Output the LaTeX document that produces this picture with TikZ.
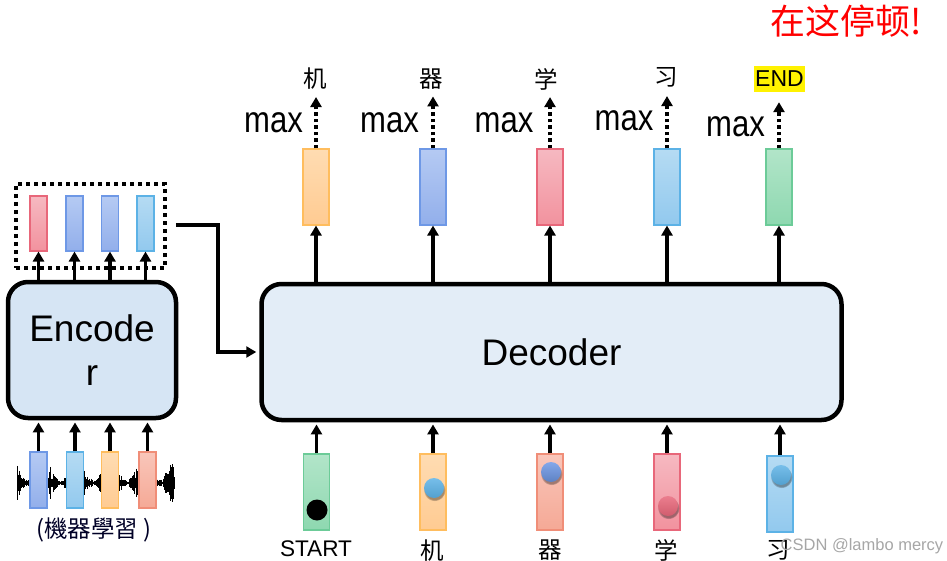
\documentclass[tikz,border=0pt]{standalone}
\usepackage{fontspec}
\usepackage{graphicx}
\setmainfont{Liberation Sans}
\newfontfamily\cjk{Noto Sans CJK SC}
\usetikzlibrary{arrows.meta,shadows,calc}
\definecolor{orT}{HTML}{FFDCB2}\definecolor{orB}{HTML}{FFCB92}\definecolor{orD}{HTML}{FFBD5E}
\definecolor{blT}{HTML}{B5CAF3}\definecolor{blB}{HTML}{92AFEB}\definecolor{blD}{HTML}{6E98E6}
\definecolor{pkT}{HTML}{F6B9C1}\definecolor{pkB}{HTML}{F2929E}\definecolor{pkD}{HTML}{E8677A}
\definecolor{lbT}{HTML}{B5DBF3}\definecolor{lbB}{HTML}{92C9EE}\definecolor{lbD}{HTML}{5CB2E6}
\definecolor{grT}{HTML}{B2E5C9}\definecolor{grB}{HTML}{8ED8B0}\definecolor{grD}{HTML}{6CCB98}
\definecolor{saT}{HTML}{F9C6BA}\definecolor{saB}{HTML}{F5A996}\definecolor{saD}{HTML}{F08E78}
\definecolor{encfill}{HTML}{D6E5F4}
\definecolor{decfill}{HTML}{E3EDF7}
\begin{document}
\begin{tikzpicture}[x=1pt,y=-1pt,
  vec/.style={draw,line width=1.1pt,inner sep=0pt,minimum width=26pt,minimum height=76pt,shading=axis},
  svec/.style={vec,minimum width=17pt,minimum height=55pt},
  vor/.style={top color=orT,bottom color=orB,draw=orD},
  vbl/.style={top color=blT,bottom color=blB,draw=blD},
  vpk/.style={top color=pkT,bottom color=pkB,draw=pkD},
  vlb/.style={top color=lbT,bottom color=lbB,draw=lbD},
  vgr/.style={top color=grT,bottom color=grB,draw=grD},
  vsa/.style={top color=saT,bottom color=saB,draw=saD},
  bigbox/.style={draw,line width=4.5pt,rounded corners=20pt,inner sep=0pt,font=\fontsize{37}{44}\selectfont,align=center},
  arr/.style={line width=3.2pt,-{Triangle[length=10pt,width=11pt]}},
  dotarr/.style={line width=3.5pt,dash pattern=on 3.5pt off 3pt,-{Triangle[length=10pt,width=11pt]}},
  dot/.style={circle,inner sep=0pt,minimum size=20pt,shading=axis,circular drop shadow={shadow xshift=0.5pt,shadow yshift=-2pt,opacity=0.35,fill=black}},
  maxlab/.style={anchor=base,inner sep=0pt,font=\fontsize{37}{37}\selectfont},
  cjklab/.style={inner sep=0pt,font=\cjk\fontsize{23.5}{23.5}\selectfont}
]
\useasboundingbox (0,0) rectangle (947,561);

% title
\node[text=red,font=\cjk\fontsize{35}{35}\selectfont] (title) at (846,21) {在这停顿!};

% waveform
\pgfmathsetseed{11}
\foreach \i in {0,...,225} {
  \pgfmathsetmacro{\xx}{17+\i*0.7}
  \pgfmathsetmacro{\env}{3+21*(abs(sin(\xx*5.5+25)))^2}
  \pgfmathsetmacro{\aa}{\env*(0.2+0.8*rnd)}
  \draw[line width=0.9pt] (\xx,483-\aa) -- (\xx,483+\aa);
}

% encoder
\node[bigbox,fill=encfill,minimum width=168pt,minimum height=136pt] (enc) at (92,350) {Encode\\r};
\node[draw,line width=3.8pt,dash pattern=on 4pt off 4pt,minimum width=149pt,minimum height=84pt] (mem) at (90.5,226) {};
\node[svec,vpk] (e1) at (38.5,223.5) {};
\node[svec,vbl] (e2) at (74.5,223.5) {};
\node[svec,vbl] (e3) at (110,223.5) {};
\node[svec,vlb] (e4) at (145.5,223.5) {};
\node[svec,vbl,minimum height=56pt] (s1) at (38.5,480) {};
\node[svec,vlb,minimum height=56pt] (s2) at (75,480) {};
\node[svec,vor,minimum height=56pt] (s3) at (110,480) {};
\node[svec,vsa,minimum height=56pt] (s4) at (147.5,480) {};
\foreach \k in {1,...,4} {
  \draw[arr] (enc.north -| e\k) -- (e\k.south);
  \draw[arr,shorten >=2.2pt] (s\k.north) -- (s\k.north |- enc.south);
}
\node[text=black!75!blue!60!black,font=\cjk\fontsize{23.5}{23.5}\selectfont] (src) at (94,530) {(機器學習 )};

% decoder
\node[bigbox,fill=decfill,minimum width=580pt,minimum height=136pt] (dec) at (551.5,352) {Decoder};
\coordinate (bend) at (218,225);
\draw[line width=3.2pt,-{Triangle[length=10pt,width=11pt]},shorten >=3pt] ([xshift=9pt]mem.east |- bend) -- (bend) |- (dec.west);

% outputs
\node[vec,vor] (o1) at (316,187) {};
\node[vec,vbl] (o2) at (433,187) {};
\node[vec,vpk] (o3) at (550,187) {};
\node[vec,vlb] (o4) at (667,187) {};
\node[vec,vgr] (o5) at (779,187) {};
\node[cjklab] (t1) at (315,79) {机};
\node[cjklab] (t2) at (431.5,79) {器};
\node[cjklab] (t3) at (546,79) {学};
\node[cjklab] (t4) at (666,77) {习};
\node[fill=yellow,inner sep=0pt,minimum width=51pt,minimum height=26pt,font=\fontsize{23}{23}\selectfont] (t5) at (779.5,79) {END};
\node[maxlab] (m1) at (273.5,133) {\scalebox{0.84}[1]{max}};
\node[maxlab] (m2) at (389.5,133) {\scalebox{0.84}[1]{max}};
\node[maxlab] (m3) at (504,133) {\scalebox{0.84}[1]{max}};
\node[maxlab] (m4) at (624,131) {\scalebox{0.84}[1]{max}};
\node[maxlab] (m5) at (735.5,137) {\scalebox{0.84}[1]{max}};
\foreach \k/\s in {1/7,2/7,3/7,4/9,5/10} {
  \draw[arr] (dec.north -| o\k) -- (o\k.south);
  \draw[dotarr,shorten >=\s pt] (o\k.north) -- (o\k.north |- t\k.south);
}

% inputs
\node[vec,vgr] (i1) at (316.5,492) {};
\node[vec,vor] (i2) at (433,492) {};
\node[vec,vsa] (i3) at (550,492) {};
\node[vec,vpk] (i4) at (667,492) {};
\node[vec,vlb] (i5) at (780,494) {};
\node[circle,inner sep=0pt,minimum size=21pt,fill=black] (d1) at (317,510) {};
\node[dot,top color=lbT!30!lbD,bottom color=lbD!90!black] (d2) at (434,488) {};
\node[dot,top color=blD!85!white,bottom color=blD!85!black] (d3) at (551,472) {};
\node[dot,top color=pkD!85!white,bottom color=pkD!90!black] (d4) at (668,506) {};
\node[dot,top color=lbT!30!lbD,bottom color=lbD!90!black] (d5) at (781,475) {};
\foreach \k in {1,...,5} {
  \draw[arr,shorten >=2.2pt] (i\k.north) -- (i\k.north |- dec.south);
}
\node[inner sep=0pt,font=\fontsize{22.6}{22.6}\selectfont] (b1) at (316,549) {START};
\node[cjklab] (b2) at (432,551) {机};
\node[cjklab] (b3) at (550,550) {器};
\node[cjklab] (b4) at (666,550) {学};
\node[cjklab] (b5) at (778,550) {习};

% watermark
\node[text=black!35,inner sep=0pt,font=\fontsize{16.5}{16.5}\selectfont] (wm) at (862,546) {CSDN @lambo mercy};
\end{tikzpicture}
\end{document}
